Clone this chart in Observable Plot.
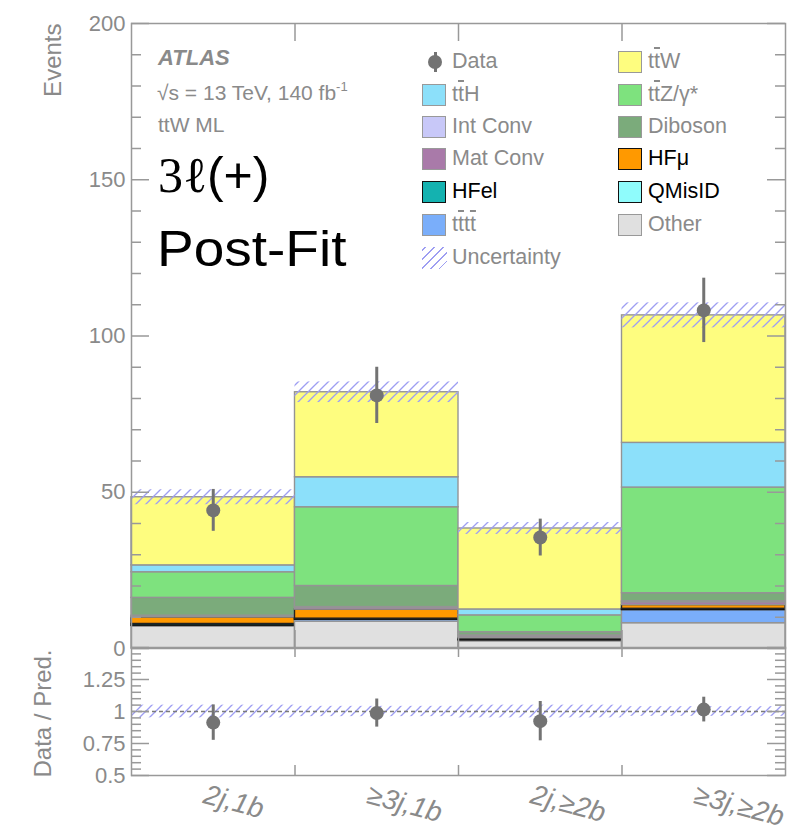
<!DOCTYPE html>
<html><head><meta charset="utf-8">
<script src="https://cdn.jsdelivr.net/npm/d3@7"></script>
<script src="https://cdn.jsdelivr.net/npm/@observablehq/plot@0.6"></script>
<style>
body{margin:0;background:#fff}
#wrap{position:relative;width:812px;height:832px;font-family:"Liberation Sans",Arial,Helvetica,sans-serif;overflow:hidden}
#wrap svg{position:absolute;left:0;overflow:visible}
.t{position:absolute;white-space:nowrap;line-height:1}
.ob{text-decoration:overline;text-decoration-thickness:1.5px}
.lg{position:absolute;white-space:nowrap;font-size:21.5px;line-height:1;color:#8a8a8a}
.box{position:absolute;width:22px;height:20px;border:1.5px solid #999}
g[aria-label="xlabels"] text{letter-spacing:2.5px}
</style>
</head><body><div id="wrap"></div>
<script>
// ---------------- data ----------------
const bins = ["2j,1b", "≥3j,1b", "2j,≥2b", "≥3j,≥2b"];
// stack order: bottom to top
const sampleNames = ["Other", "tttt", "QMisID", "HFel", "HFmu", "MatConv", "IntConv", "Diboson", "ttZ", "ttH", "ttW"];
const other   = [7.0, 8.6, 2.3, 8.1];
const tttt    = [0.3, 0.6, 0.3, 4.2];
const qmisid  = [0.05, 0.05, 0.1, 0.05];
const hfel    = [0.5, 0.3, 0.3, 0.35];
const hfmu    = [2.1, 2.9, 0.3, 1.2];
const matconv = [0.4, 0.6, 0.6, 0.9];
const intconv = [0.15, 0.2, 0.3, 0.3];
const diboson = [5.7, 6.75, 1.0, 2.6];
const ttz     = [8.2, 25.2, 5.4, 33.8];
const tth     = [2.2, 9.6, 1.9, 14.3];
const ttw     = [21.8, 27.2, 25.9, 40.8];
const sampleValues = [other, tttt, qmisid, hfel, hfmu, matconv, intconv, diboson, ttz, tth, ttw];
const uncertainty = [2.4, 3.3, 1.9, 4.0];
const dataValues = [44.2, 81.0, 35.5, 108.2];
const dataErrors = [6.7, 9.0, 5.9, 10.3];
const mainTicks = [0, 50, 100, 150, 200];
const ratioTicks = [0.5, 0.75, 1, 1.25];

// ---------------- styles ----------------
const fillColors = {Other:"#e0e0e0", tttt:"#7aaefa", QMisID:"#8ffcfc", HFel:"#14b2b0", HFmu:"#ff9900",
  MatConv:"#a97aa9", IntConv:"#c8c8f8", Diboson:"#7bab7b", ttZ:"#7ee27e", ttH:"#8ce0fa", ttW:"#fefd7f"};
const strokeColors = {HFel:"#111", HFmu:"#222", QMisID:"#222"};
const grey = "#8a8a8a", frameGrey = "#999", dataGrey = "#737373";

// build stacked rows
const rows = [];
bins.forEach((b, i) => {
  let cum = 0;
  sampleNames.forEach((s, k) => {
    const v = sampleValues[k][i];
    rows.push({bin: i, sample: s, y1: cum, y2: cum + v});
    cum += v;
  });
});
const totals = bins.map((b, i) => d3.sum(sampleValues, arr => arr[i]));
const binRows = bins.map((b, i) => ({
  bin: i, label: b, total: totals[i], unc: uncertainty[i],
  data: dataValues[i], err: dataErrors[i],
  ratio: dataValues[i] / totals[i], rerr: dataErrors[i] / totals[i], runc: uncertainty[i] / totals[i]
}));
const edges = d3.range(bins.length + 1);

function hatchDefs(id) {
  return () => {
    const defs = d3.create("svg:defs");
    const p = defs.append("pattern").attr("id", id).attr("patternUnits", "userSpaceOnUse")
      .attr("width", 10).attr("height", 10);
    p.append("path").attr("d", "M-2,12 L12,-2").attr("stroke", "#9e9ef2").attr("stroke-width", 1.3);
    p.append("path").attr("d", "M-2,2 L2,-2 M8,12 L12,8").attr("stroke", "#9e9ef2").attr("stroke-width", 1.3);
    return defs.node();
  };
}

const W = 812;
const ML = 131, MR = 27;
const plotW = W - ML - MR;
const mainH = 660, mainMT = 23, mainMB = 12;
const panelH = mainH - mainMT - mainMB;

function innerTicksY(values, len) {
  return [
    Plot.tickY(values, {y: d => d, stroke: frameGrey, strokeWidth: 1.5, insetRight: plotW - len}),
    Plot.tickY(values, {y: d => d, stroke: frameGrey, strokeWidth: 1.5, insetLeft: plotW - len})
  ];
}
function innerTicksX(values, len, h) {
  return [
    Plot.tickX(values, {x: d => d, stroke: frameGrey, strokeWidth: 1.5, insetBottom: h - len}),
    Plot.tickX(values, {x: d => d, stroke: frameGrey, strokeWidth: 1.5, insetTop: h - len})
  ];
}

const mainMinor = d3.range(0, 201, 10).filter(v => !mainTicks.includes(v));
const main = Plot.plot({
  width: W, height: mainH,
  marginLeft: ML, marginRight: MR, marginTop: mainMT, marginBottom: mainMB,
  x: {domain: [0, bins.length], axis: null},
  y: {domain: [0, 200], axis: null},
  color: {type: "identity"},
  style: {background: "transparent", fontFamily: "'Liberation Sans', Arial, sans-serif", overflow: "visible"},
  marks: [
    hatchDefs("hatchMain"),
    Plot.rect(rows, {x1: d => d.bin, x2: d => d.bin + 1, y1: "y1", y2: "y2",
      fill: d => fillColors[d.sample], stroke: d => strokeColors[d.sample] || "#949494", strokeWidth: 1.4}),
    Plot.rect(binRows, {x1: d => d.bin, x2: d => d.bin + 1, y1: d => d.total - d.unc, y2: d => d.total + d.unc,
      fill: "url(#hatchMain)"}),
    Plot.ruleX(binRows, {x: d => d.bin + 0.5, y1: d => d.data - d.err, y2: d => d.data + d.err, stroke: dataGrey, strokeWidth: 3}),
    Plot.dot(binRows, {x: d => d.bin + 0.5, y: "data", r: 7, fill: dataGrey}),
    Plot.frame({stroke: frameGrey, strokeWidth: 1.5}),
    ...innerTicksY(mainTicks, 18),
    ...innerTicksY(mainMinor, 10),
    ...innerTicksX(edges.slice(1, -1), 18, panelH),
    Plot.axisY({ticks: mainTicks, tickSize: 0, tickPadding: 6, fontSize: 22, fill: grey, label: null}),
    Plot.text(["Events"], {frameAnchor: "top-left", rotate: -90, textAnchor: "end", dx: -88, fontSize: 24, fill: grey})
  ]
});
main.style.top = "0px";

const ratioTop = 647, ratioH = 185, ratioMB = 57;
const ratioPanelH = ratioH - ratioMB;
const ratioMinor = d3.range(0.5, 1.5001, 0.05).map(v => +v.toFixed(2)).filter(v => ![0.5, 0.75, 1, 1.25, 1.5].includes(v));
const ratio = Plot.plot({
  width: W, height: ratioH,
  marginLeft: ML, marginRight: MR, marginTop: 0, marginBottom: ratioMB,
  x: {domain: [0, bins.length], axis: null},
  y: {domain: [0.5, 1.5], axis: null},
  color: {type: "identity"},
  style: {background: "transparent", fontFamily: "'Liberation Sans', Arial, sans-serif", overflow: "visible"},
  marks: [
    hatchDefs("hatchRatio"),
    Plot.rect(binRows, {x1: d => d.bin, x2: d => d.bin + 1, y1: d => 1 - d.runc, y2: d => 1 + d.runc, fill: "url(#hatchRatio)"}),
    Plot.ruleY([1], {stroke: "#7a7a7a", strokeWidth: 1.5, strokeDasharray: "4,3"}),
    Plot.ruleX(binRows, {x: d => d.bin + 0.5, y1: d => d.ratio - d.rerr, y2: d => d.ratio + d.rerr, stroke: dataGrey, strokeWidth: 3}),
    Plot.dot(binRows, {x: d => d.bin + 0.5, y: "ratio", r: 7, fill: dataGrey}),
    Plot.frame({stroke: frameGrey, strokeWidth: 1.5}),
    ...innerTicksY([0.5, 0.75, 1, 1.25, 1.5], 18),
    ...innerTicksY(ratioMinor, 10),
    ...innerTicksX(edges.slice(1, -1), 10, ratioPanelH),
    Plot.axisY({ticks: ratioTicks, tickSize: 0, tickPadding: 6, fontSize: 22, fill: grey, label: null, tickFormat: d => String(d)}),
    Plot.text(["Data / Pred."], {frameAnchor: "left", rotate: -90, textAnchor: "middle", dx: -88, dy: 2, fontSize: 24, fill: grey}),
    Plot.text(binRows, {x: d => d.bin + 0.5, text: "label", frameAnchor: "bottom", textAnchor: "start", lineAnchor: "top",
      rotate: 15, dx: -6, dy: 8, fontSize: 28, fontStyle: "italic", fill: grey, ariaLabel: "xlabels"})
  ]
});
ratio.style.top = ratioTop + "px";

const wrap = document.getElementById("wrap");
wrap.appendChild(main);
wrap.appendChild(ratio);

// ---------------- annotations ----------------
function addHTML(html, css, cls) {
  const d = document.createElement("div");
  d.className = cls || "t";
  d.innerHTML = html;
  Object.assign(d.style, css);
  wrap.appendChild(d);
  return d;
}
addHTML("ATLAS", {left: "158px", top: "47px", fontSize: "22px", fontWeight: "bold", fontStyle: "italic", color: "#8a8a8a"});
addHTML("√s = 13 TeV, 140 fb<sup style='font-size:13px;vertical-align:9px'>-1</sup>", {left: "157px", top: "80px", fontSize: "21px", color: "#8a8a8a"});
addHTML("ttW ML", {left: "158px", top: "114px", fontSize: "21px", color: "#8a8a8a"});
addHTML("<span style=\"font-family:'Liberation Serif','DejaVu Serif',serif\">3ℓ</span>(+)", {left: "158px", top: "150px", fontSize: "50px", color: "#000"});
addHTML("Post-Fit", {left: "157px", top: "224px", fontSize: "50px", color: "#000", transform: "scaleX(1.1)", transformOrigin: "left"});

// ---------------- legend ----------------
const legendLabels = {Data: "Data", ttW: "t<span class=ob>t</span>W", ttH: "t<span class=ob>t</span>H",
  ttZ: "t<span class=ob>t</span>Z/γ*", IntConv: "Int Conv", Diboson: "Diboson", MatConv: "Mat Conv",
  HFmu: "HFμ", HFel: "HFel", QMisID: "QMisID", tttt: "t<span class=ob>t</span>t<span class=ob>t</span>",
  Other: "Other", Unc: "Uncertainty"};
const legendCol1 = ["Data", "ttH", "IntConv", "MatConv", "HFel", "tttt", "Unc"];
const legendCol2 = ["ttW", "ttZ", "Diboson", "HFmu", "QMisID", "Other"];
const blackText = new Set(["HFmu", "HFel", "QMisID"]);
const rowY = [62, 95, 127, 159, 192, 225, 258];
[[legendCol1, 422], [legendCol2, 618]].forEach(([col, x0]) => {
  col.forEach((key, r) => {
    const cy = rowY[r];
    if (key === "Data") {
      addHTML("", {left: (x0 + 12) + "px", top: (cy - 10) + "px", width: "2.5px", height: "20px", background: dataGrey}, "t");
      addHTML("", {left: (x0 + 6) + "px", top: (cy - 7) + "px", width: "14px", height: "14px", borderRadius: "50%", background: dataGrey}, "t");
    } else if (key === "Unc") {
      addHTML("", {left: x0 + "px", top: (cy - 11) + "px", width: "25px", height: "22px",
        background: "repeating-linear-gradient(-45deg, transparent 0 5px, #9e9ef2 5px 6.3px)"}, "t");
    } else {
      addHTML("", {left: x0 + "px", top: (cy - 11) + "px", background: fillColors[key],
        borderColor: strokeColors[key] ? "#111" : "#999"}, "box");
    }
    addHTML(legendLabels[key], {left: (x0 + 30) + "px", top: (cy - 11) + "px",
      color: blackText.has(key) ? "#000" : "#8a8a8a"}, "lg");
  });
});
</script>
</body></html>
